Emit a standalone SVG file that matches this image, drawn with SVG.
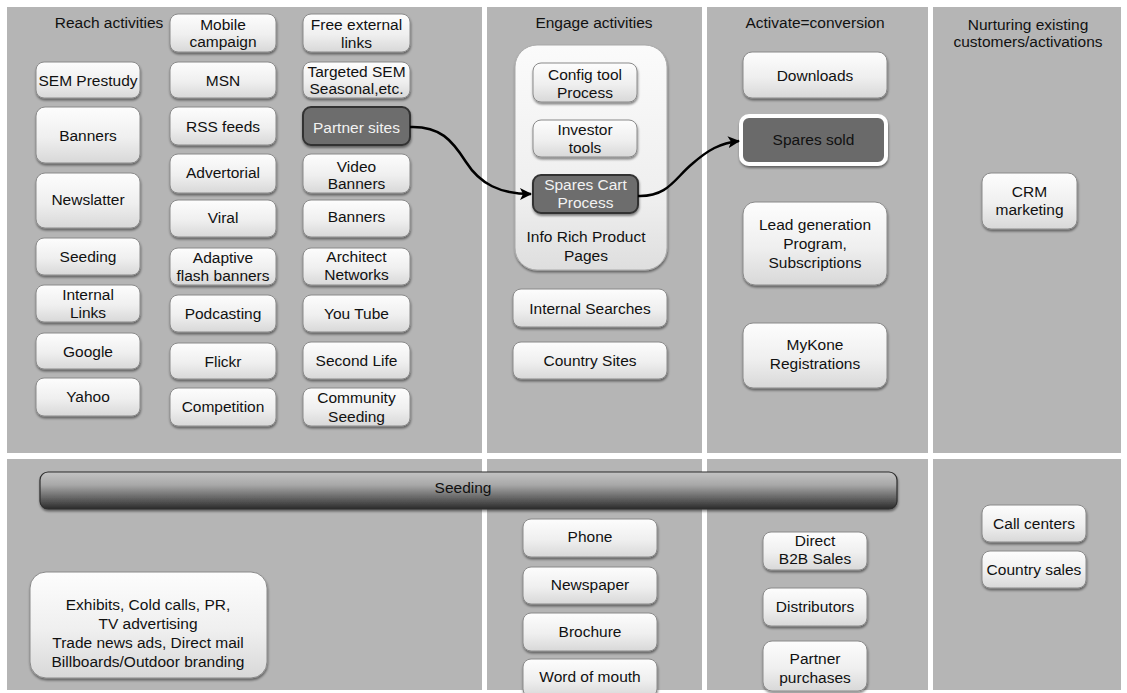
<svg xmlns="http://www.w3.org/2000/svg" width="1127" height="693" viewBox="0 0 1127 693">
<defs>
<linearGradient id="g" x1="0" y1="0" x2="0" y2="1">
<stop offset="0" stop-color="#fdfdfd"/><stop offset="0.55" stop-color="#efefef"/><stop offset="1" stop-color="#d8d8d8"/>
</linearGradient>
<linearGradient id="gc" x1="0" y1="0" x2="0" y2="1">
<stop offset="0" stop-color="#fbfbfb"/><stop offset="0.7" stop-color="#eeeeee"/><stop offset="1" stop-color="#dedede"/>
</linearGradient>
<linearGradient id="gbar" x1="0" y1="0" x2="0" y2="1">
<stop offset="0" stop-color="#c4c4c4"/><stop offset="0.35" stop-color="#a8a8a8"/><stop offset="1" stop-color="#2b2b2b"/>
</linearGradient>
<filter id="sh" x="-20%" y="-20%" width="140%" height="160%">
<feDropShadow dx="0.5" dy="2" stdDeviation="1.2" flood-color="#000" flood-opacity="0.45"/>
</filter>
<marker id="ah" viewBox="0 0 12 12" refX="11" refY="6" markerWidth="12" markerHeight="12" markerUnits="userSpaceOnUse" orient="auto">
<path d="M0,0 L12,6 L0,12 L3,6 Z" fill="#000"/>
</marker>
</defs>
<style>
.p{fill:#b5b5b5}
.n rect{fill:url(#g);stroke:#8a8a8a;stroke-width:1;filter:url(#sh)}
.d rect{fill:#6d6d6d;stroke:#333;stroke-width:2;filter:url(#sh)}
text{font-family:"Liberation Sans",Arial,Helvetica,sans-serif;font-size:15.5px;fill:#111;text-anchor:middle}
.d text{fill:#f2f2f2}
.h{font-size:15.5px}
.c path{fill:none;stroke:#000;stroke-width:2.5;marker-end:url(#ah)}
</style>
<rect x="0" y="0" width="1127" height="693" fill="#ffffff"/>
<g id="panels">
<rect class="p" x="7" y="7" width="475" height="446"/>
<rect class="p" x="487" y="7" width="215" height="446"/>
<rect class="p" x="707" y="7" width="221" height="446"/>
<rect class="p" x="933" y="7" width="188" height="446"/>
<rect class="p" x="7" y="459" width="475" height="231"/>
<rect class="p" x="487" y="459" width="215" height="231"/>
<rect class="p" x="707" y="459" width="221" height="231"/>
<rect class="p" x="933" y="459" width="188" height="231"/>
</g>
<g id="titles">
<text class="h" x="109" y="28">Reach activities</text>
<text class="h" x="594" y="28">Engage activities</text>
<text class="h" x="815" y="28">Activate=conversion</text>
<text class="h" x="1028" y="30">Nurturing existing</text>
<text class="h" x="1028" y="47">customers/activations</text>
</g>
<g id="reach-a">
<g id="sem-prestudy" class="n"><rect x="36" y="62" width="104" height="36" rx="8"/><text x="88" y="86">SEM Prestudy</text></g>
<g id="banners-1" class="n"><rect x="36" y="107" width="104" height="56" rx="9"/><text x="88" y="141">Banners</text></g>
<g id="newslatter" class="n"><rect x="36" y="173" width="104" height="55" rx="9"/><text x="88" y="205">Newslatter</text></g>
<g id="seeding-1" class="n"><rect x="36" y="238" width="104" height="37" rx="8"/><text x="88" y="262">Seeding</text></g>
<g id="internal-links" class="n"><rect x="36" y="285" width="104" height="37" rx="8"/><text x="88" y="300">Internal</text><text x="88" y="318">Links</text></g>
<g id="google" class="n"><rect x="36" y="333" width="104" height="36" rx="8"/><text x="88" y="357">Google</text></g>
<g id="yahoo" class="n"><rect x="36" y="378" width="104" height="38" rx="8"/><text x="88" y="402">Yahoo</text></g>
</g>
<g id="reach-b">
<g id="mobile-campaign" class="n"><rect x="170" y="14" width="106" height="38" rx="8"/><text x="223" y="30">Mobile</text><text x="223" y="47">campaign</text></g>
<g id="msn" class="n"><rect x="170" y="62" width="106" height="36" rx="8"/><text x="223" y="86">MSN</text></g>
<g id="rss-feeds" class="n"><rect x="170" y="107" width="106" height="38" rx="8"/><text x="223" y="132">RSS feeds</text></g>
<g id="advertorial" class="n"><rect x="170" y="154" width="106" height="39" rx="8"/><text x="223" y="178">Advertorial</text></g>
<g id="viral" class="n"><rect x="170" y="200" width="106" height="37" rx="8"/><text x="223" y="223">Viral</text></g>
<g id="adaptive" class="n"><rect x="170" y="248" width="106" height="37" rx="8"/><text x="223" y="263">Adaptive</text><text x="223" y="281">flash banners</text></g>
<g id="podcasting" class="n"><rect x="170" y="295" width="106" height="37" rx="8"/><text x="223" y="319">Podcasting</text></g>
<g id="flickr" class="n"><rect x="170" y="343" width="106" height="36" rx="8"/><text x="223" y="367">Flickr</text></g>
<g id="competition" class="n"><rect x="170" y="388" width="106" height="38" rx="8"/><text x="223" y="412">Competition</text></g>
</g>
<g id="reach-c">
<g id="free-links" class="n"><rect x="303" y="14" width="107" height="38" rx="8"/><text x="356.5" y="30">Free external</text><text x="356.5" y="48">links</text></g>
<g id="targeted-sem" class="n"><rect x="303" y="62" width="107" height="36" rx="8"/><text x="356.5" y="77">Targeted SEM</text><text x="356.5" y="94">Seasonal,etc.</text></g>
<g id="partner-sites" class="d"><rect x="303" y="107" width="107" height="38" rx="8"/><text x="356.5" y="133">Partner sites</text></g>
<g id="video-banners" class="n"><rect x="303" y="154" width="107" height="39" rx="8"/><text x="356.5" y="172">Video</text><text x="356.5" y="189">Banners</text></g>
<g id="banners-2" class="n"><rect x="303" y="200" width="107" height="37" rx="8"/><text x="356.5" y="222">Banners</text></g>
<g id="architect" class="n"><rect x="303" y="248" width="107" height="37" rx="8"/><text x="356.5" y="262">Architect</text><text x="356.5" y="280">Networks</text></g>
<g id="youtube" class="n"><rect x="303" y="295" width="107" height="37" rx="8"/><text x="356.5" y="319">You Tube</text></g>
<g id="second-life" class="n"><rect x="303" y="342" width="107" height="37" rx="8"/><text x="356.5" y="366">Second Life</text></g>
<g id="community-seeding" class="n"><rect x="303" y="388" width="107" height="38" rx="8"/><text x="356.5" y="403">Community</text><text x="356.5" y="422">Seeding</text></g>
</g>
<g id="engage">
<g id="product-pages"><rect x="515" y="45" width="152" height="225" rx="22" fill="url(#gc)" stroke="#aaaaaa" stroke-width="1" filter="url(#sh)"/><text x="586" y="242">Info Rich Product</text><text x="586" y="261">Pages</text></g>
<g id="config-tool" class="n"><rect x="533" y="63" width="104" height="39" rx="8"/><text x="585" y="80">Config tool</text><text x="585" y="98">Process</text></g>
<g id="investor-tools" class="n"><rect x="533" y="120" width="104" height="37" rx="8"/><text x="585" y="135">Investor</text><text x="585" y="153">tools</text></g>
<g id="spares-cart" class="d"><rect x="533" y="175" width="105" height="38" rx="8"/><text x="585.5" y="190">Spares Cart</text><text x="585.5" y="208">Process</text></g>
<g id="internal-searches" class="n"><rect x="513" y="289" width="154" height="38" rx="8"/><text x="590" y="314">Internal Searches</text></g>
<g id="country-sites" class="n"><rect x="513" y="342" width="154" height="37" rx="8"/><text x="590" y="366">Country Sites</text></g>
</g>
<g id="activate">
<g id="downloads" class="n"><rect x="743" y="52" width="144" height="46" rx="9"/><text x="815" y="81">Downloads</text></g>
<g id="spares-sold"><rect x="741" y="116" width="145" height="48" rx="8" fill="#6b6b6b" stroke="#ffffff" stroke-width="4" filter="url(#sh)"/><text x="813.5" y="145" fill="#f2f2f2">Spares sold</text></g>
<g id="lead-generation" class="n"><rect x="743" y="202" width="144" height="83" rx="12"/><text x="815" y="230">Lead generation</text><text x="815" y="249">Program,</text><text x="815" y="268">Subscriptions</text></g>
<g id="mykone" class="n"><rect x="743" y="323" width="144" height="65" rx="10"/><text x="815" y="350">MyKone</text><text x="815" y="369">Registrations</text></g>
</g>
<g id="nurture">
<g id="crm-marketing" class="n"><rect x="982" y="173" width="95" height="56" rx="9"/><text x="1029.5" y="197">CRM</text><text x="1029.5" y="215">marketing</text></g>
</g>
<g id="bottom">
<g id="seeding-bar"><rect x="40" y="472" width="857" height="37" rx="8" fill="url(#gbar)" stroke="#2e2e2e" stroke-width="1.2" filter="url(#sh)"/><text x="463" y="493" fill="#f4f4f4">Seeding</text></g>
<g id="offline" class="n"><rect x="30" y="572" width="237" height="106" rx="16"/><text x="148" y="610">Exhibits, Cold calls, PR,</text><text x="148" y="629">TV advertising</text><text x="148" y="648">Trade news ads, Direct mail</text><text x="148" y="667">Billboards/Outdoor branding</text></g>
<g id="phone" class="n"><rect x="523" y="519" width="134" height="38" rx="8"/><text x="590" y="542">Phone</text></g>
<g id="newspaper" class="n"><rect x="523" y="567" width="134" height="37" rx="8"/><text x="590" y="590">Newspaper</text></g>
<g id="brochure" class="n"><rect x="523" y="613" width="134" height="38" rx="8"/><text x="590" y="637">Brochure</text></g>
<g id="word-of-mouth" class="n"><rect x="523" y="659" width="134" height="38" rx="8"/><text x="590" y="682">Word of mouth</text></g>
<g id="direct-b2b" class="n"><rect x="763" y="532" width="104" height="38" rx="8"/><text x="815" y="546">Direct</text><text x="815" y="564">B2B Sales</text></g>
<g id="distributors" class="n"><rect x="763" y="588" width="104" height="38" rx="8"/><text x="815" y="612">Distributors</text></g>
<g id="partner-purchases" class="n"><rect x="763" y="641" width="104" height="50" rx="9"/><text x="815" y="664">Partner</text><text x="815" y="683">purchases</text></g>
<g id="call-centers" class="n"><rect x="982" y="505" width="104" height="37" rx="8"/><text x="1034" y="529">Call centers</text></g>
<g id="country-sales" class="n"><rect x="982" y="551" width="104" height="37" rx="8"/><text x="1034" y="575">Country sales</text></g>
</g>
<g id="connectors" class="c">
<path d="M410,127 C440,126 452,140 466,162 C480,184 500,194 531,194"/>
<path d="M638,196 C668,197 675,178 692,164 C708,150 720,143 739,141"/>
</g>
</svg>
